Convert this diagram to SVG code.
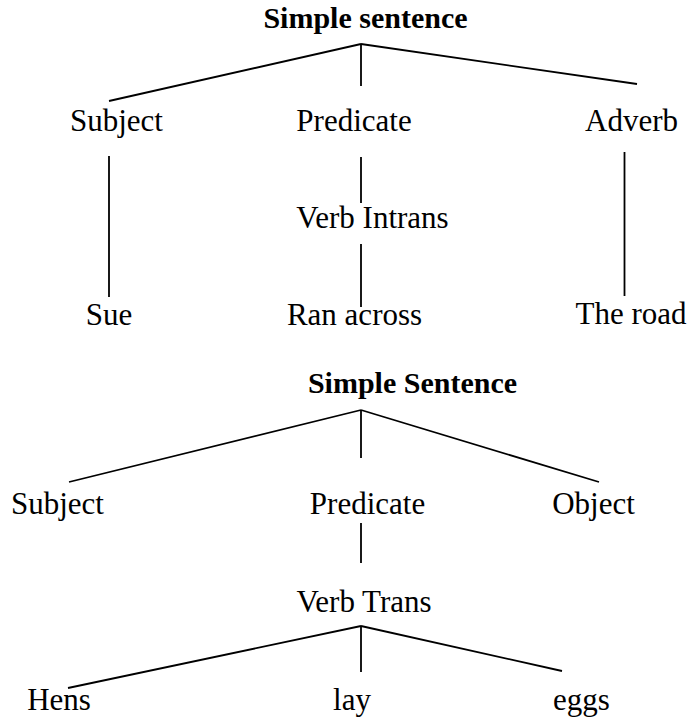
<svg xmlns="http://www.w3.org/2000/svg" width="691" height="718" viewBox="0 0 691 718">
<style>
text{font-family:"Liberation Serif","DejaVu Serif",serif;font-size:31px;fill:#000;text-anchor:middle}
.t{font-weight:bold;font-size:30px}
line{stroke:#000;stroke-width:1.8}
</style>
<rect width="691" height="718" fill="#fff"/>
<g id="connectors">
<line x1="361" y1="44" x2="109" y2="101"/>
<line x1="361" y1="44" x2="361" y2="86"/>
<line x1="361" y1="44" x2="637" y2="84"/>
<line x1="109" y1="156" x2="109" y2="297"/>
<line x1="361" y1="157" x2="361" y2="203"/>
<line x1="624.5" y1="152" x2="624.5" y2="296"/>
<line x1="361" y1="244" x2="361" y2="307"/>
<line x1="361" y1="410" x2="69" y2="482"/>
<line x1="361" y1="410" x2="361" y2="458"/>
<line x1="361" y1="410" x2="599" y2="482"/>
<line x1="361" y1="523" x2="361" y2="563"/>
<line x1="361" y1="626" x2="68" y2="688"/>
<line x1="361" y1="626" x2="361" y2="672"/>
<line x1="361" y1="626" x2="562" y2="671"/>
</g>
<g id="n-title1"><text class="t" x="365.5" y="28">Simple sentence</text></g>
<g id="n-subject1"><text x="116.5" y="131">Subject</text></g>
<g id="n-predicate1"><text x="354" y="131">Predicate</text></g>
<g id="n-adverb"><text x="631.5" y="131">Adverb</text></g>
<g id="n-verbintrans"><text x="372.5" y="228">Verb Intrans</text></g>
<g id="n-sue"><text x="109" y="325">Sue</text></g>
<g id="n-ranacross"><text x="354.5" y="325">Ran across</text></g>
<g id="n-theroad"><text x="631" y="324">The road</text></g>
<g id="n-title2"><text class="t" x="412.5" y="393">Simple Sentence</text></g>
<g id="n-subject2"><text x="57.5" y="514">Subject</text></g>
<g id="n-predicate2"><text x="367.5" y="514">Predicate</text></g>
<g id="n-object"><text x="593.5" y="514">Object</text></g>
<g id="n-verbtrans"><text x="364" y="612">Verb Trans</text></g>
<g id="n-hens"><text x="59" y="710">Hens</text></g>
<g id="n-lay"><text x="352" y="710">lay</text></g>
<g id="n-eggs"><text x="581.5" y="710">eggs</text></g>
</svg>
